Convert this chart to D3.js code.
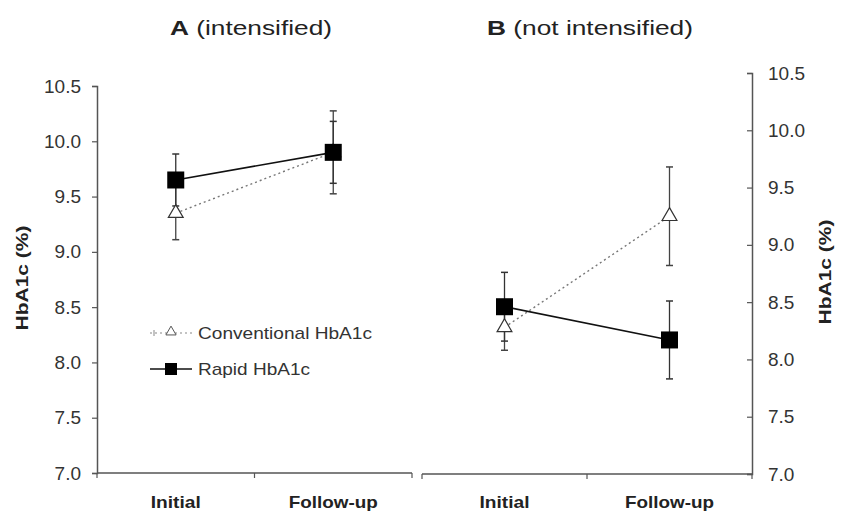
<!DOCTYPE html>
<html>
<head>
<meta charset="utf-8">
<script src="https://cdn.jsdelivr.net/npm/d3@7"></script>
<style>
  body { margin: 0; background: #fff; }
  svg { font-family: "Liberation Sans", Arial, sans-serif; }
</style>
</head>
<body>
<div id="chart"></div>
<script>
// chart data
const timepoints = ["Initial", "Follow-up"];
const yTicks = [7.0, 7.5, 8.0, 8.5, 9.0, 9.5, 10.0, 10.5];

// panel A (intensified)
const convA = [9.35, 9.90];
const convErrA = [0.24, 0.375];
const rapidA = [9.65, 9.90];
const rapidErrA = [0.235, 0.28];

// panel B (not intensified)
const convB = [8.28, 9.25];
const convErrB = [0.2, 0.43];
const rapidB = [8.46, 8.17];
const rapidErrB = [0.3, 0.34];

const legendItems = ["Conventional HbA1c", "Rapid HbA1c"];

const WIDTH = 843, HEIGHT = 512;

const svg = d3.select('#chart').append('svg')
  .attr('width', WIDTH)
  .attr('height', HEIGHT);

const AXIS_COLOR = '#555';
const xLabelWidth = {"Initial": 50, "Follow-up": 89};

function drawPanel(opts) {
  const x = d3.scaleBand().domain(timepoints).range([opts.x0, opts.x1]);
  const y = d3.scaleLinear().domain([7, 10.5]).range([opts.yBottom, opts.yTop]);
  const cx = d => x(d) + x.bandwidth() / 2;

  const g = svg.append('g');

  // x axis line with ticks pointing down
  g.append('line')
    .attr('x1', opts.x0).attr('x2', opts.x1)
    .attr('y1', opts.yBottom).attr('y2', opts.yBottom)
    .attr('stroke', AXIS_COLOR).attr('stroke-width', 1.5);
  g.selectAll('.xtick')
    .data([opts.x0, x(timepoints[1]), opts.x1])
    .join('line')
    .attr('x1', d => d).attr('x2', d => d)
    .attr('y1', opts.yBottom).attr('y2', opts.yBottom + 5)
    .attr('stroke', AXIS_COLOR).attr('stroke-width', 1.2);

  g.selectAll('.xlab')
    .data(timepoints)
    .join('text')
    .attr('x', d => cx(d))
    .attr('y', 508)
    .attr('text-anchor', 'middle')
    .attr('font-size', 17)
    .attr('font-weight', 'bold')
    .attr('fill', '#222')
    .attr('textLength', d => xLabelWidth[d])
    .attr('lengthAdjust', 'spacingAndGlyphs')
    .text(d => d);

  // y axis
  const axis = opts.side === 'left' ? d3.axisLeft(y) : d3.axisRight(y);
  const ya = g.append('g')
    .attr('transform', `translate(${opts.yAxisX},0)`)
    .call(axis.tickValues(yTicks).tickFormat(d3.format('.1f')).tickSize(opts.side === 'left' ? 5 : -5).tickPadding(opts.side === 'left' ? 11 : 16));
  ya.select('.domain').attr('stroke', AXIS_COLOR).attr('stroke-width', 1.5);
  ya.selectAll('.tick line').attr('stroke', AXIS_COLOR).attr('stroke-width', 1.2);
  ya.selectAll('.tick text')
    .attr('font-size', 19)
    .attr('font-family', '"Liberation Sans", Arial, sans-serif')
    .attr('fill', '#333');

  // y title
  g.append('text')
    .attr('transform', `translate(${opts.titleX},${opts.titleMid}) rotate(-90)`)
    .attr('text-anchor', 'middle')
    .attr('font-size', 17)
    .attr('font-weight', 'bold')
    .attr('fill', '#222')
    .attr('textLength', 105)
    .attr('lengthAdjust', 'spacingAndGlyphs')
    .text('HbA1c (%)');

  // panel title
  const t = g.append('text')
    .attr('x', opts.titleCx)
    .attr('y', 35)
    .attr('text-anchor', 'middle')
    .attr('font-size', 20)
    .attr('fill', '#222')
    .attr('textLength', opts.titleW)
    .attr('lengthAdjust', 'spacingAndGlyphs');
  t.append('tspan').attr('font-weight', 'bold').text(opts.letter);
  t.append('tspan').text(' ' + opts.label);

  // error bars
  const drawErr = (vals, errs, color) => {
    timepoints.forEach((tp, i) => {
      const xc = cx(tp);
      const lo = y(vals[i] - errs[i]), hi = y(vals[i] + errs[i]);
      g.append('line').attr('x1', xc).attr('x2', xc).attr('y1', lo).attr('y2', hi)
        .attr('stroke', color).attr('stroke-width', 1.3);
      [lo, hi].forEach(v => g.append('line')
        .attr('x1', xc - 3.5).attr('x2', xc + 3.5).attr('y1', v).attr('y2', v)
        .attr('stroke', color).attr('stroke-width', 1.5));
    });
  };
  drawErr(opts.conv, opts.convErr, '#444');
  drawErr(opts.rapid, opts.rapidErr, '#333');

  const line = d3.line().x((d, i) => cx(timepoints[i])).y(d => y(d));

  // conventional: dotted line, open triangles
  g.append('path')
    .datum(opts.conv)
    .attr('d', line)
    .attr('fill', 'none')
    .attr('stroke', '#777')
    .attr('stroke-width', 1.4)
    .attr('stroke-dasharray', '2,3');
  g.selectAll('.tri')
    .data(opts.conv)
    .join('path')
    .attr('transform', (d, i) => `translate(${cx(timepoints[i])},${y(d)})`)
    .attr('d', d3.symbol(d3.symbolTriangle, 95))
    .attr('fill', '#fff')
    .attr('stroke', '#333')
    .attr('stroke-width', 1.2);

  // rapid: solid line, filled squares
  g.append('path')
    .datum(opts.rapid)
    .attr('d', line)
    .attr('fill', 'none')
    .attr('stroke', '#111')
    .attr('stroke-width', 1.6);
  g.selectAll('.sq')
    .data(opts.rapid)
    .join('rect')
    .attr('x', (d, i) => cx(timepoints[i]) - 8.5)
    .attr('y', d => y(d) - 8.5)
    .attr('width', 17)
    .attr('height', 17)
    .attr('fill', '#000');
}

drawPanel({
  x0: 97, x1: 412, yAxisX: 97, side: 'left',
  yTop: 86, yBottom: 473, titleX: 28, titleMid: 278, titleCx: 251, titleW: 162,
  letter: 'A', label: '(intensified)',
  conv: convA, convErr: convErrA, rapid: rapidA, rapidErr: rapidErrA
});

drawPanel({
  x0: 422, x1: 752, yAxisX: 752, side: 'right',
  yTop: 73, yBottom: 474, titleX: 831, titleMid: 272, titleCx: 590, titleW: 206,
  letter: 'B', label: '(not intensified)',
  conv: convB, convErr: convErrB, rapid: rapidB, rapidErr: rapidErrB
});

// legend
const legendWidths = [174, 112];
const legend = svg.append('g').attr('transform', 'translate(150,333)');
legendItems.forEach((name, i) => {
  const row = legend.append('g').attr('transform', `translate(0,${i * 36})`);
  if (i === 0) {
    row.append('line').attr('x1', 0).attr('x2', 42).attr('y1', 0).attr('y2', 0)
      .attr('stroke', '#888').attr('stroke-width', 1.2).attr('stroke-dasharray', '2,3');
    row.append('line').attr('x1', 4).attr('x2', 4).attr('y1', -3).attr('y2', 3)
      .attr('stroke', '#888').attr('stroke-width', 1);
    row.append('path').attr('transform', 'translate(21,-1)')
      .attr('d', d3.symbol(d3.symbolTriangle, 45))
      .attr('fill', '#fff').attr('stroke', '#555').attr('stroke-width', 1);
  } else {
    row.append('line').attr('x1', 0).attr('x2', 42).attr('y1', 0).attr('y2', 0)
      .attr('stroke', '#111').attr('stroke-width', 1.5);
    row.append('rect').attr('x', 15).attr('y', -6).attr('width', 12).attr('height', 12).attr('fill', '#000');
  }
  row.append('text')
    .attr('x', 48).attr('y', 6)
    .attr('font-size', 17)
    .attr('fill', '#333')
    .attr('textLength', legendWidths[i])
    .attr('lengthAdjust', 'spacingAndGlyphs')
    .text(name);
});
</script>
</body>
</html>
